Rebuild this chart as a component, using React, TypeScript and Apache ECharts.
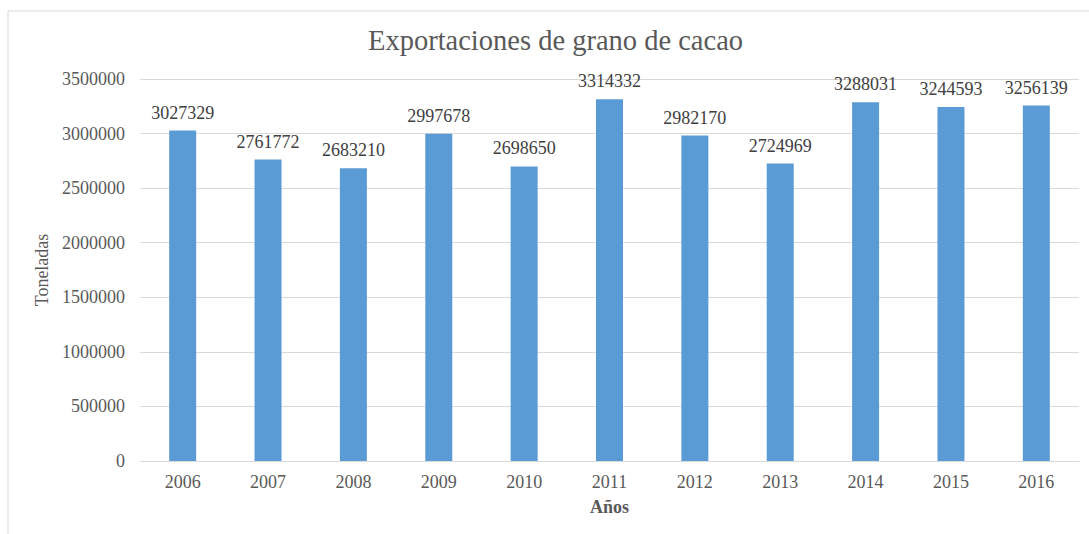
import React, { useEffect, useRef } from "react";
import * as echarts from "echarts";

const years = ["2006", "2007", "2008", "2009", "2010", "2011", "2012", "2013", "2014", "2015", "2016"];
const exportsTons = [3027329, 2761772, 2683210, 2997678, 2698650, 3314332, 2982170, 2724969, 3288031, 3244593, 3256139];
const titleText = "Exportaciones de grano de cacao";
const yName = "Toneladas";
const xName = "Años";

const FONT = "Liberation Serif, serif";

export default function App() {
  const ref = useRef<HTMLDivElement>(null);
  useEffect(() => {
    if (!ref.current) return;
    const chart = echarts.init(ref.current, null, { renderer: "svg" });
    chart.setOption({
      animation: false,
      backgroundColor: "#ffffff",
      textStyle: { fontFamily: FONT },
      title: {
        text: titleText,
        left: 363,
        top: 21,
        textStyle: { fontFamily: FONT, fontSize: 28.5, fontWeight: "normal", color: "#595959" },
      },
      graphic: [
        {
          type: "rect",
          shape: { x: 8, y: 11, width: 1200, height: 700 },
          style: { fill: "none", stroke: "#d9d9d9", lineWidth: 1 },
          silent: true,
        },
      ],
      grid: { left: 140, right: 10, top: 79, bottom: 73 },
      xAxis: {
        type: "category",
        data: years,
        name: xName,
        nameLocation: "middle",
        nameGap: 37,
        nameTextStyle: { fontFamily: FONT, fontSize: 18, color: "#595959", fontWeight: "bold" },
        axisLine: { lineStyle: { color: "#d9d9d9" } },
        axisTick: { show: false },
        axisLabel: { fontFamily: FONT, fontSize: 18, color: "#595959", margin: 12 },
      },
      yAxis: {
        type: "value",
        min: 0,
        max: 3500000,
        interval: 500000,
        name: yName,
        nameLocation: "middle",
        nameGap: 82,
        nameTextStyle: { fontFamily: FONT, fontSize: 18, color: "#595959" },
        axisLine: { show: false },
        axisTick: { show: false },
        splitLine: { lineStyle: { color: "#d9d9d9" } },
        axisLabel: {
          fontFamily: FONT,
          fontSize: 18,
          color: "#595959",
          margin: 15,
          formatter: (v: number) => String(v),
        },
      },
      series: [
        {
          type: "bar",
          data: exportsTons,
          barWidth: 27,
          itemStyle: { color: "#5b9bd5" },
          label: {
            show: true,
            position: "top",
            distance: 9,
            fontFamily: FONT,
            fontSize: 18,
            color: "#404040",
          },
        },
      ],
    });
    return () => chart.dispose();
  }, []);
  return <div ref={ref} style={{ position: "fixed", left: 0, top: 0, width: 1089, height: 534 }} />;
}
